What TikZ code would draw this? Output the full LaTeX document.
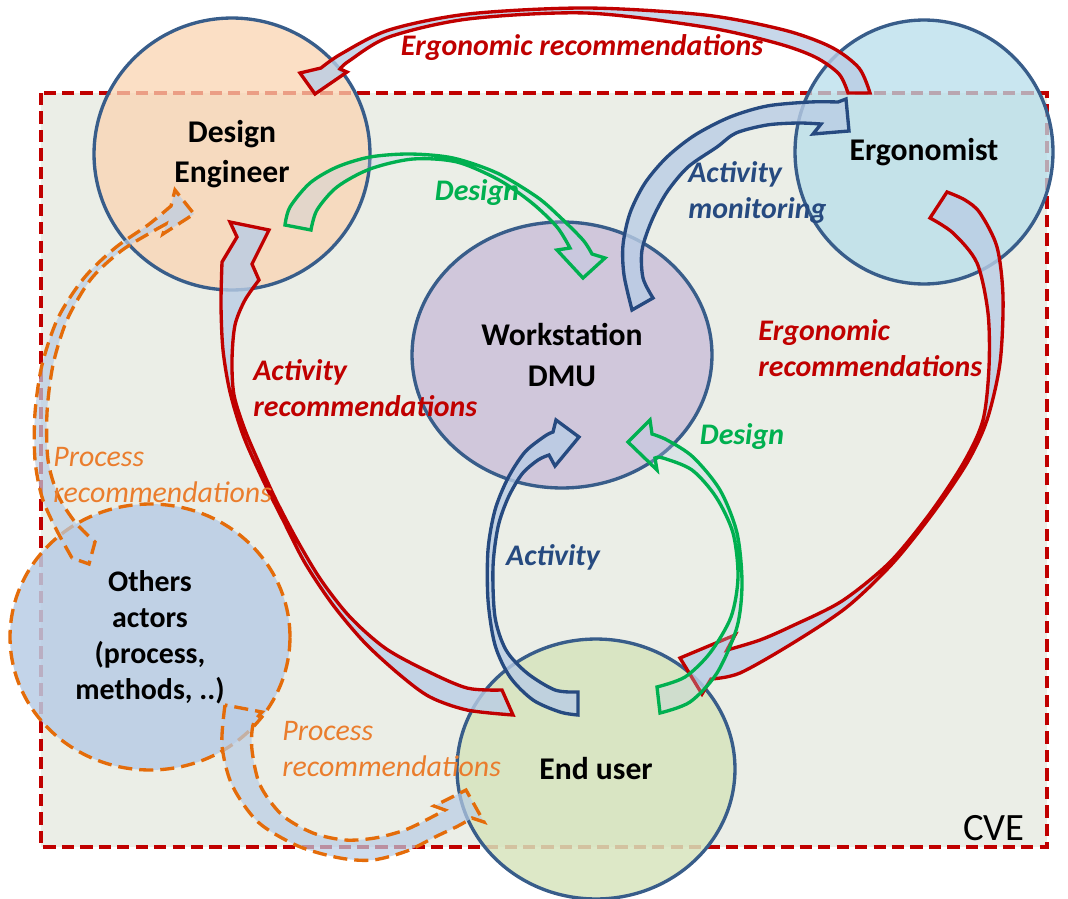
\documentclass[tikz,border=0pt]{standalone}
\usepackage{fontspec}
\setmainfont{Carlito}
\usetikzlibrary{shapes.geometric}

\definecolor{cvered}{RGB}{192,0,0}
\definecolor{cvefill}{RGB}{235,238,231}
\definecolor{ringblue}{RGB}{56,93,138}
\definecolor{defill}{RGB}{250,212,178}
\definecolor{ergfill}{RGB}{183,222,235}
\definecolor{wsfill}{RGB}{204,193,218}
\definecolor{eufill}{RGB}{215,228,189}
\definecolor{othfill}{RGB}{185,205,229}
\definecolor{bandfill}{RGB}{185,205,229}
\definecolor{dsgreen}{RGB}{0,176,80}
\definecolor{actblue}{RGB}{38,74,128}
\definecolor{procorange}{RGB}{228,108,10}
\definecolor{proctext}{RGB}{234,125,45}

\begin{document}
\begin{tikzpicture}[x=0.02cm,y=-0.02cm]
\tikzstyle{every node}+=[inner sep=0pt]
\tikzstyle{actor}=[ellipse, draw=ringblue, line width=1.9pt, fill opacity=0.75, text opacity=1, align=center, font=\fontsize{18}{23}\selectfont\bfseries]
\tikzstyle{band}=[fill=bandfill, fill opacity=0.8, line width=1.9pt, line join=miter]
\tikzstyle{greenband}=[band, draw=dsgreen, fill opacity=0.3]
\tikzstyle{procband}=[band, draw=procorange, dash pattern=on 8pt off 4pt, fill opacity=0.7]
\tikzstyle{lbl}=[font=\fontsize{17}{20.5}\selectfont\bfseries\itshape, align=left]
\tikzstyle{plbl}=[font=\fontsize{17}{20.5}\selectfont\itshape, align=left, text=proctext]

\useasboundingbox (0,0) rectangle (1068,899);
% CVE frame
\draw [cvered, line width=2.1pt, dash pattern=on 7pt off 3.5pt, fill=cvefill] (41,93) rectangle (1047,847);
\node [font=\fontsize{22}{26}\selectfont, anchor=base east] (cve) at (1025,840) {CVE};

% actors
\node [actor, fill=defill, minimum width=5.52cm, minimum height=5.44cm] (de) at (232,154) {Design\\Engineer};
\node [actor, fill=ergfill, minimum width=5.16cm, minimum height=5.28cm] (erg) at (924,152) {Ergonomist};
\node [actor, fill=wsfill, fill opacity=0.85, minimum width=6cm, minimum height=5.32cm] (ws) at (562,355) {Workstation\\DMU};
\node [actor, fill=eufill, fill opacity=0.85, minimum width=5.56cm, minimum height=5.2cm] (eu) at (596,769) {End user};
\node [actor, fill=othfill, fill opacity=0.85, draw=procorange, dash pattern=on 8pt off 4pt, font=\fontsize{17}{20.5}\selectfont\bfseries, minimum width=5.6cm, minimum height=5.32cm] (oth) at (150,637) {Others\\actors\\(process,\\methods, ..)};

% ergonomist -> design engineer
\draw [band, draw=cvered] plot[smooth] coordinates {(870,93) (859,68) (831,47) (784,30) (705,15) (586,8) (468,14) (389,30) (341,54) (321,68)}
  -- (300,73) -- (315,94) -- (347,72)
  -- plot[smooth] coordinates {(340,69) (349,61) (389,37) (468,19) (586,13) (705,27) (776,43) (815,57) (839,74) (848,93)} -- cycle;
% design engineer -> workstation
\draw [greenband] plot[smooth] coordinates {(285,225) (290,207) (310,183) (337,167) (370,157) (410,154) (453,158) (497,173) (537,197) (560,217) (583,240) (592,254)}
  -- (605,258) -- (583,278) -- (557,250)
  -- plot[smooth] coordinates {(570,248) (557,227) (532,203) (499,180) (457,162) (413,159) (370,169) (337,187) (317,210) (311,230)} -- cycle;
% workstation -> ergonomist
\draw [band, draw=actblue] plot[smooth] coordinates {(632,310) (624,275) (623,245) (630,213) (645,183) (667,157) (695,135) (730,117) (767,106) (810,102) (838,102)}
  -- (846,99) -- (849,131) -- (813,134)
  -- plot[smooth] coordinates {(821,124) (798,123) (767,125) (736,133) (717,147) (688,167) (667,192) (652,220) (642,250) (643,278) (653,298)} -- cycle;
% ergonomist -> end user
\draw [band, draw=cvered] plot[smooth] coordinates {(947,192) (965,200) (980,213) (997,247) (1003,297) (1000,363) (987,420) (967,463) (933,513) (893,563) (847,607) (793,643) (740,673) (711,679)}
  -- (702,694) -- (680,658) -- (735,635)
  -- plot[smooth] coordinates {(727,650) (760,640) (792,626) (842,601) (890,562) (931,512) (964,462) (983,420) (989,367) (988,313) (977,263) (953,233) (930,218)} -- cycle;
% end user -> design engineer
\draw [band, draw=cvered] plot[smooth] coordinates {(513,715) (467,710) (430,697) (400,675) (365,643) (333,605) (305,563) (283,520) (262,478) (243,435) (230,392) (223,350) (221,305) (222,262)}
  -- (237,237) -- (230,222) -- (269,230) -- (252,264)
  -- plot[smooth] coordinates {(259,280) (245,300) (235,325) (232,360) (234,395) (245,430) (260,465) (276,500) (297,540) (321,580) (350,617) (385,648) (425,670) (467,688) (502,690)} -- cycle;
% end user -> workstation (activity)
\draw [band, draw=actblue] plot[smooth] coordinates {(578,715) (560,712) (533,700) (510,677) (495,645) (488,600) (488,550) (495,510) (508,478) (525,452) (545,436) (553,432)}
  -- (556,420) -- (579,437) -- (555,466)
  -- plot[smooth] coordinates {(549,455) (538,460) (522,474) (508,498) (498,527) (493,567) (495,617) (506,650) (527,673) (555,690) (578,692)} -- cycle;
% end user -> workstation (design)
\draw [greenband] plot[smooth] coordinates {(660,713) (690,702) (717,673) (737,627) (742,583) (737,533) (720,490) (693,457) (667,440) (652,434)}
  -- (650,420) -- (628,442) -- (657,470)
  -- plot[smooth] coordinates {(655,458) (663,458) (692,470) (716,497) (733,533) (738,577) (731,617) (710,653) (685,677) (657,687)} -- cycle;
% others -> design engineer
\draw [procband] plot[smooth] coordinates {(72,558) (55,527) (42,497) (35,460) (35,413) (42,365) (58,318) (84,278) (115,248) (148,225) (171,206)}
  -- (175,190) -- (194,214) -- (163,234)
  -- plot[smooth] coordinates {(166,224) (150,233) (121,251) (91,279) (67,320) (53,365) (47,413) (48,460) (58,495) (75,522) (95,542)} -- (89,564) -- cycle;
% others -> end user
\draw [procband] plot[smooth] coordinates {(225,705) (222,745) (232,785) (258,822) (298,846) (340,858) (373,860) (407,851) (435,837) (458,826) (472,818)}
  -- (484,822) -- (466,790) -- (434,806)
  -- plot[smooth] coordinates {(445,810) (430,818) (405,830) (375,838) (345,840) (313,833) (282,815) (260,785) (252,750) (253,725) (262,712)} -- cycle;

% labels
\node [lbl, text=cvered] (ergtop) at (582,48) {Ergonomic recommendations};
\node [lbl, text=dsgreen] (destop) at (477,193) {Design};
\node [lbl, text=actblue, anchor=west] (monit) at (688,193) {Activity\\monitoring};
\node [lbl, text=cvered, anchor=west] (ergright) at (758,348) {Ergonomic\\recommendations};
\node [lbl, text=cvered, anchor=west] (actrec) at (253,388) {Activity\\recommendations};
\node [lbl, text=dsgreen] (desbot) at (742,437) {Design};
\node [lbl, text=actblue] (act) at (553,557) {Activity};
\node [plbl, anchor=west] (procup) at (53,475) {Process\\recommendations};
\node [plbl, anchor=west] (proclow) at (282,749) {Process\\recommendations};
\end{tikzpicture}
\end{document}
